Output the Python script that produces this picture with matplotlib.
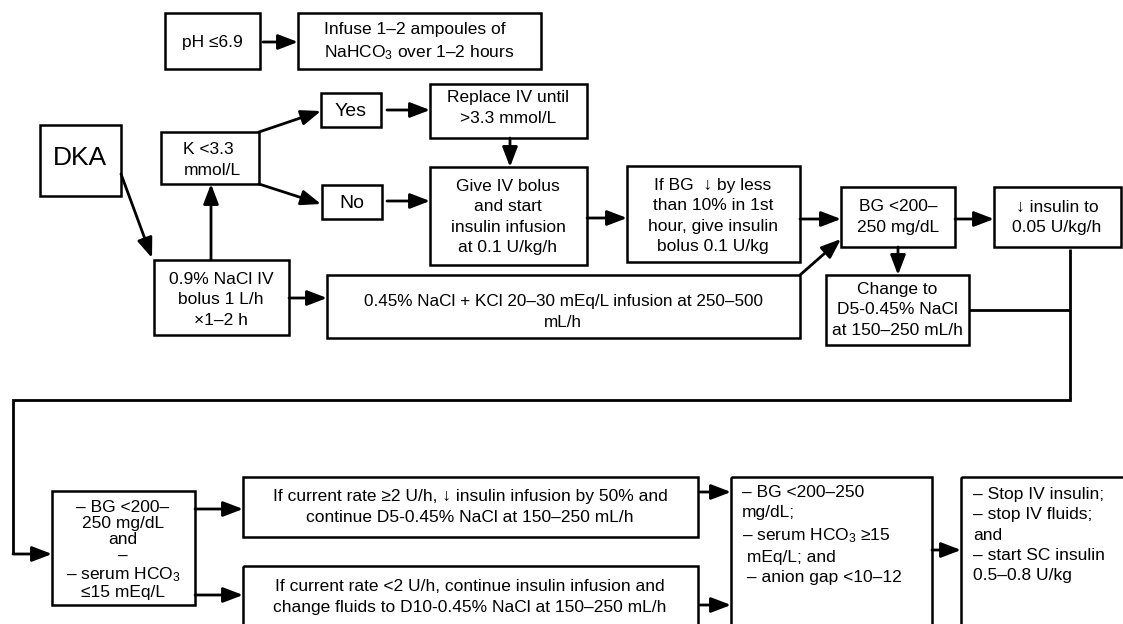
import matplotlib
matplotlib.use("Agg")
import matplotlib.pyplot as plt
from matplotlib.patches import Rectangle

plt.rcParams['font.family'] = ['Liberation Sans', 'DejaVu Sans']
plt.rcParams['mathtext.fontset'] = 'custom'
plt.rcParams['mathtext.rm'] = 'Liberation Sans'
plt.rcParams['mathtext.it'] = 'Liberation Sans'
plt.rcParams['mathtext.bf'] = 'Liberation Sans'

# ---------------- data: node texts ----------------
node_ids = ["ph", "bicarb", "dka", "k", "yes", "no", "replace", "give",
            "ifbg", "bg", "insulin", "change", "nacl09", "nacl045",
            "crit", "rate_hi", "rate_lo", "resolve", "stop"]
node_texts = [
    "pH \u22646.9",
    "Infuse 1\u20132 ampoules of\nNaHCO$_3$ over 1\u20132 hours",
    "DKA",
    "K <3.3\nmmol/L",
    "Yes",
    "No",
    "Replace IV until\n>3.3 mmol/L",
    "Give IV bolus\nand start\ninsulin infusion\nat 0.1 U/kg/h",
    "If BG  \u2193 by less\nthan 10% in 1st\nhour, give insulin\nbolus 0.1 U/kg",
    "BG <200\u2013\n250 mg/dL",
    "\u2193 insulin to\n0.05 U/kg/h",
    "Change to\nD5-0.45% NaCl\nat 150\u2013250 mL/h",
    "0.9% NaCl IV\nbolus 1 L/h\n\u00d71\u20132 h",
    "0.45% NaCl + KCl 20\u201330 mEq/L infusion at 250\u2013500\nmL/h",
    "\u2013 BG <200\u2013\n250 mg/dL\nand\n\u2013\n\u2013 serum HCO$_3$\n\u226415 mEq/L",
    "If current rate \u22652 U/h, \u2193 insulin infusion by 50% and\ncontinue D5-0.45% NaCl at 150\u2013250 mL/h",
    "If current rate <2 U/h, continue insulin infusion and\nchange fluids to D10-0.45% NaCl at 150\u2013250 mL/h",
    "\u2013 BG <200\u2013250\nmg/dL;\n\u2013 serum HCO$_3$ \u226515\n mEq/L; and\n \u2013 anion gap <10\u201312",
    "\u2013 Stop IV insulin;\n\u2013 stop IV fluids;\nand\n\u2013 start SC insulin\n0.5\u20130.8 U/kg",
]
texts = dict(zip(node_ids, node_texts))

# ---------------- layout (pixel coordinates) ----------------
# box: (x0, y0, x1, y1); text: (x, y, ha, multialign, fontsize, linespacing)
boxes = {
    "ph": (165, 13, 260, 69),
    "bicarb": (298, 13, 541, 69),
    "dka": (40, 125, 121, 196),
    "k": (161, 132, 259, 184),
    "yes": (321, 93, 381, 127),
    "no": (322, 185, 382, 219),
    "replace": (430, 84, 587, 138),
    "give": (430, 167, 587, 265),
    "ifbg": (627, 166, 800, 262),
    "bg": (841, 187, 955, 247),
    "insulin": (994, 187, 1121, 247),
    "change": (826, 275, 969, 345),
    "nacl09": (154, 260, 289, 335),
    "nacl045": (327, 275, 800, 338),
    "crit": (52, 491, 195, 605),
    "rate_hi": (243, 477, 698, 537),
    "rate_lo": (243, 566, 698, 650),
    "resolve": (731, 477, 932, 650),
    "stop": (961, 477, 1150, 650),
}
LS = 1.42
text_pos = {
    "ph": (212, 42, 'center', 'center', 12.5, LS),
    "bicarb": (324, 42, 'left', 'left', 12.5, LS),
    "dka": (80, 158, 'center', 'center', 19, LS),
    "k": (212, 160, 'center', 'left', 12.5, LS),
    "yes": (351, 111, 'center', 'center', 14, LS),
    "no": (352, 203, 'center', 'center', 14, LS),
    "replace": (508, 108, 'center', 'center', 12.5, LS),
    "give": (508, 217, 'center', 'center', 12.5, LS),
    "ifbg": (713, 216, 'center', 'center', 12.5, LS),
    "bg": (898, 217, 'center', 'center', 12.5, LS),
    "insulin": (1057, 217, 'center', 'center', 12.5, LS),
    "change": (897, 310, 'center', 'center', 12.5, LS),
    "nacl09": (221, 300, 'center', 'center', 12.5, LS),
    "nacl045": (563, 312, 'center', 'center', 12.3, LS),
    "crit": (123, 550, 'center', 'center', 12.5, 1.1),
    "rate_hi": (470, 507, 'center', 'center', 12.5, LS),
    "rate_lo": (470, 597, 'center', 'center', 12.5, LS),
    "resolve": (742, 535, 'left', 'left', 12.5, LS),
    "stop": (973, 535, 'left', 'left', 12.5, LS),
}

# arrows: (x_start, y_start, x_tip, y_tip)
arrows = [
    (263, 42, 298, 42),
    (121, 174, 152, 258),
    (211, 260, 211, 184),
    (259, 132, 321, 111),
    (259, 184, 321, 204),
    (387, 110, 430, 110),
    (387, 201, 430, 201),
    (510, 138, 510, 167),
    (289, 298, 327, 298),
    (587, 218, 627, 218),
    (800, 219, 841, 219),
    (800, 275, 841, 239),
    (955, 219, 994, 219),
    (898, 247, 898, 275),
    (13, 554, 52, 554),
    (195, 509, 243, 509),
    (195, 595, 243, 595),
    (700, 492, 731, 492),
    (700, 605, 731, 605),
    (932, 550, 961, 550),
]
# plain connector polylines
connectors = [
    [(969, 310), (1070, 310)],
    [(1070, 249), (1070, 400), (13, 400), (13, 554)],
]

W, H = 1123, 624
fig = plt.figure(figsize=(W / 100, H / 100), dpi=100)
ax = fig.add_axes([0, 0, 1, 1])
ax.set_xlim(0, W)
ax.set_ylim(H, 0)
ax.axis('off')

LW = 1.8
for key, (x0, y0, x1, y1) in boxes.items():
    ax.add_patch(Rectangle((x0, y0), x1 - x0, y1 - y0, fill=False,
                           edgecolor='black', linewidth=LW, joinstyle='miter'))
    tx, ty, ha, ma, fs, ls = text_pos[key]
    ax.text(tx, ty, texts[key], ha=ha, va='center', multialignment=ma,
            fontsize=fs, linespacing=ls, color='black')

for pts in connectors:
    xs = [p[0] for p in pts]
    ys = [p[1] for p in pts]
    ax.plot(xs, ys, color='black', linewidth=2.0, solid_joinstyle='miter',
            solid_capstyle='butt')

for (xs, ys, xt, yt) in arrows:
    ax.annotate('', xy=(xt, yt), xytext=(xs, ys),
                arrowprops=dict(arrowstyle='-|>,head_length=0.6,head_width=0.23',
                                mutation_scale=20, lw=2.0, color='black',
                                shrinkA=0, shrinkB=0))

fig.savefig('out.png', dpi=100, facecolor='white')
